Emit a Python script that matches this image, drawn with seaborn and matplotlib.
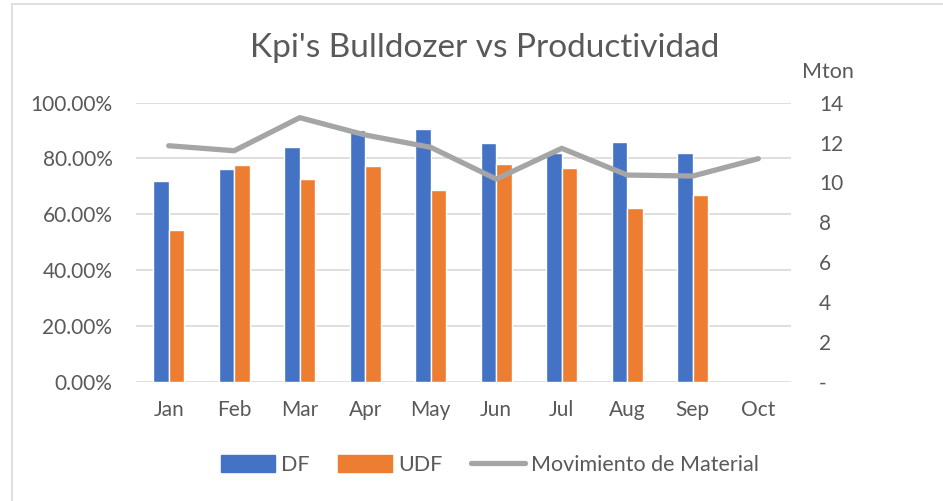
import numpy as np
import pandas as pd
import matplotlib
matplotlib.use('Agg')
import matplotlib.pyplot as plt
import seaborn as sns
from matplotlib.patches import Rectangle, Patch
from matplotlib.lines import Line2D
from matplotlib.ticker import FuncFormatter

# Datos
meses = ['Jan', 'Feb', 'Mar', 'Apr', 'May', 'Jun', 'Jul', 'Aug', 'Sep', 'Oct']
df_vals = [71.8, 76.1, 84.1, 90.2, 90.6, 85.6, 82.0, 86.0, 82.1, np.nan]
udf_vals = [54.3, 77.7, 72.5, 77.3, 68.8, 78.0, 76.6, 62.4, 66.9, np.nan]
movimiento = [11.84, 11.59, 13.25, 12.38, 11.76, 10.17, 11.71, 10.37, 10.32, 11.19]

azul = '#4472C4'
naranja = '#ED7D31'
gris = '#A5A5A5'
texto = '#595959'
grid = '#D9D9D9'

sns.set_style('white')
plt.rcParams['font.family'] = ['Lato', 'DejaVu Sans']

datos = pd.DataFrame({
    'Mes': meses * 2,
    'Serie': ['DF'] * len(meses) + ['UDF'] * len(meses),
    'Valor': df_vals + udf_vals,
})

fig = plt.figure(figsize=(9.43, 5.01), dpi=100)
ax = fig.add_axes([136 / 943, 1 - 381.7 / 501, (791 - 136) / 943, (381.7 - 102.7) / 501])

sns.barplot(data=datos, x='Mes', y='Valor', hue='Serie', order=meses,
            palette=[azul, naranja], width=0.47, errorbar=None, ax=ax,
            legend=False, saturation=1)

ax.set_xlim(-0.5, len(meses) - 0.5)
ax.set_ylim(0, 100)
ax.set_yticks(np.arange(0, 101, 20))
ax.yaxis.set_major_formatter(FuncFormatter(lambda v, p: f'{v:.2f}%'))
ax.grid(axis='y', color=grid, linewidth=1.2)
ax.set_axisbelow(True)
for s in ax.spines.values():
    s.set_visible(False)
ax.tick_params(axis='both', length=0, labelsize=15, colors=texto)
ax.tick_params(axis='x', pad=13)
ax.tick_params(axis='y', pad=17)
ax.set_xlabel('')
ax.set_ylabel('')

ax2 = ax.twinx()
sns.lineplot(x=np.arange(len(meses)), y=movimiento, color=gris, linewidth=3.8,
             ax=ax2, legend=False)
ax2.set_ylim(0, 14)
ax2.set_yticks(np.arange(0, 15, 2))
ax2.yaxis.set_major_formatter(FuncFormatter(lambda v, p: '-' if v == 0 else f'{v:.0f}'))
ax2.tick_params(axis='y', length=0, labelsize=15, colors=texto, pad=20)
for s in ax2.spines.values():
    s.set_visible(False)
ax2.grid(False)
ax2.set_xlim(-0.5, len(meses) - 0.5)

fig.text(485 / 943, 1 - 48 / 501, "Kpi's Bulldozer vs Productividad", ha='center',
         va='center', fontsize=24, color=texto)
fig.text(828 / 943, 1 - 72 / 501, 'Mton', ha='center', va='center', fontsize=15.5,
         color=texto)

handles = [Patch(color=azul, label='DF'), Patch(color=naranja, label='UDF'),
           Line2D([], [], color=gris, linewidth=3.8, label='Movimiento de Material')]
fig.legend(handles=handles, loc='center', bbox_to_anchor=(490 / 943, 1 - 465 / 501),
           ncol=3, frameon=False, fontsize=15.5, labelcolor=texto,
           handlelength=2.5, handleheight=0.8, handletextpad=0.3, columnspacing=1.3)

fig.add_artist(Rectangle((12 / 943, -0.05), 1, 1.05 - 4.5 / 501, transform=fig.transFigure,
                         fill=False, edgecolor=grid, linewidth=1.2))

fig.savefig('out.png', dpi=100)
